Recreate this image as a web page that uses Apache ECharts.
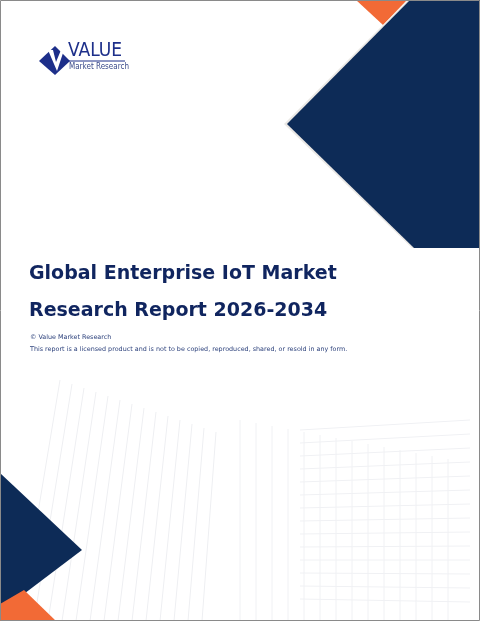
<!DOCTYPE html>
<html><head><meta charset="utf-8">
<script src="https://cdn.jsdelivr.net/npm/echarts@6/dist/echarts.min.js"></script>
<style>html,body{margin:0;padding:0;background:#fff}#c{width:480px;height:621px}</style>
</head><body><div id="c"></div>
<script>
const titleLines = ["Global Enterprise IoT Market", "Research Report 2026-2034"];
const copyright = "© Value Market Research";
const notice = "This report is a licensed product and is not to be copied, reproduced, shared, or resold in any form.";
const logoWords = ["VALUE", "Market Research"];

const navy = "#0d2b57", orange = "#f26a36", textNavy = "#10255f";
const chart = echarts.init(document.getElementById('c'));
const g = [];
for (let i = 0; i < 14; i++) {
  g.push({type:'line', shape:{x1:60+i*12, y1:380+i*4, x2:20+i*14, y2:621}, style:{stroke:'#eeeff2', lineWidth:1}});
  g.push({type:'line', shape:{x1:240+i*16, y1:420+i*3, x2:240+i*16, y2:621}, style:{stroke:'#f0f1f4', lineWidth:1}});
  g.push({type:'line', shape:{x1:300, y1:430+i*13, x2:470, y2:420+i*14}, style:{stroke:'#f0f1f4', lineWidth:1}});
}
g.push({type:'polygon', shape:{points:[[450,0],[480,0],[480,33]]}, style:{fill:'#e8e6e3'}});
g.push({type:'polygon', shape:{points:[[356,0],[407,0],[383,25]]}, style:{fill:orange}});
g.push({type:'polygon', shape:{points:[[284,124],[408,0],[480,0],[480,248],[412,248]]}, style:{fill:'#e9e7e4'}});
g.push({type:'polygon', shape:{points:[[287,124],[410,0],[480,0],[480,248],[414,248]]}, style:{fill:navy}});
g.push({type:'polygon', shape:{points:[[0,473],[82,550],[0,612]]}, style:{fill:navy}});
g.push({type:'polygon', shape:{points:[[0,604],[24,590],[56,621],[0,621]]}, style:{fill:orange}});
g.push({type:'polygon', shape:{points:[[39,61],[55,46],[70,61],[55,75]]}, style:{fill:'#1d2f8a'}});
g.push({type:'polygon', shape:{points:[[48,50],[53,50],[56,62],[61,50],[64,50],[57,71]]}, style:{fill:'#fff'}});
g.push({type:'text', x:68, y:42, style:{text:logoWords[0], font:'19px "DejaVu Sans Condensed"', fill:'#1d2f8a'}});
g.push({type:'line', shape:{x1:68,y1:61,x2:125,y2:61}, style:{stroke:'#1d2f8a',lineWidth:1}});
g.push({type:'text', x:69, y:63, style:{text:logoWords[1], font:'8px "DejaVu Sans Condensed"', fill:'#3a4a8a'}});
titleLines.forEach((t,i)=>g.push({type:'text', x:29, y:265+i*37, style:{text:t, font:'bold 19px "DejaVu Sans"', fill:textNavy}}));
g.push({type:'text', x:30, y:334, style:{text:copyright, font:'6.4px "DejaVu Sans"', fill:'#2a3f7a'}});
g.push({type:'text', x:30, y:346, style:{text:notice, font:'6.4px "DejaVu Sans"', fill:'#2a3f7a'}});
g.push({type:'rect', shape:{x:0.5,y:0.5,width:479,height:620}, style:{fill:'none', stroke:'#8a8a8a', lineWidth:1}});
chart.setOption({animation:false, graphic:g});
</script></body></html>
